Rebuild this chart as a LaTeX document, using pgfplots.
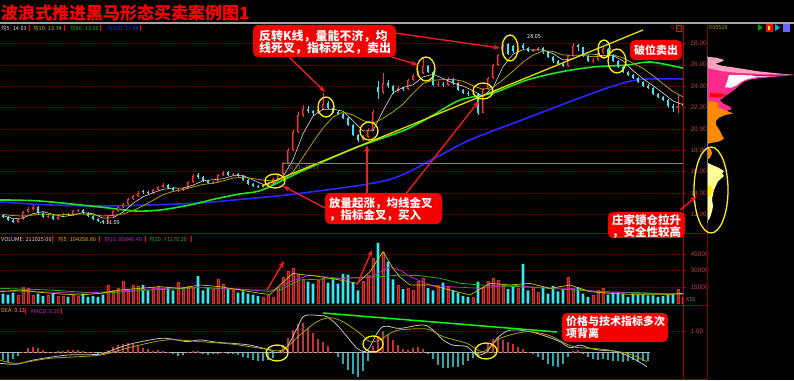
\documentclass[border=0pt]{standalone}
\usepackage{pgfplots}
\pgfplotsset{compat=1.18}
\usepackage{pgfplotstable}
\usepackage{fontspec}
\setmainfont{Liberation Sans}
\newfontfamily\cjk{Noto Sans CJK SC}
\usetikzlibrary{arrows.meta}
\definecolor{titlered}{HTML}{FF0000}
\definecolor{boxred}{HTML}{F50000}
\definecolor{upred}{HTML}{FF3232}
\definecolor{updark}{HTML}{7A1414}
\definecolor{dncyan}{HTML}{33E8F2}
\definecolor{volred}{HTML}{8B1E1E}
\definecolor{volredd}{HTML}{D43030}
\definecolor{gridc}{HTML}{5C0000}
\definecolor{sepc}{HTML}{800000}
\definecolor{axred}{HTML}{B00000}
\definecolor{lbl}{HTML}{C04040}
\definecolor{ma5}{HTML}{DCDCDC}
\definecolor{ma10}{HTML}{B4A000}
\definecolor{ma60}{HTML}{1EE61E}
\definecolor{ma120}{HTML}{2828FF}
\definecolor{difc}{HTML}{C0C0C0}
\definecolor{deac}{HTML}{A8A000}
\definecolor{vma5}{HTML}{C8C800}
\definecolor{vma10}{HTML}{D020D0}
\definecolor{vma20}{HTML}{20B020}
\definecolor{histred}{HTML}{C83232}
\definecolor{histteal}{HTML}{2EA8B0}
\definecolor{trend}{HTML}{DDDD00}
\definecolor{arr}{HTML}{FF1A1A}

\pgfplotstableread{
x o h l c v m
3 11.95 12.05 11.65 11.77 9000 -0.35
8 11.77 11.85 11.40 11.49 8000 -0.45
13 11.49 11.60 11.20 11.30 10000 -0.30
18 11.30 11.66 11.25 11.58 8000 -0.15
23 11.58 12.35 11.52 12.24 15000 0.05
28 12.24 12.70 12.15 12.52 14000 0.20
33 12.52 12.85 12.40 12.70 8000 0.28
38 12.70 12.75 12.05 12.14 9000 0.22
43 12.14 12.20 11.70 11.77 7000 0.12
48 11.77 11.98 11.65 11.86 8000 0.05
53 11.86 11.92 11.50 11.58 9000 0.02
58 11.58 11.85 11.52 11.77 7000 0.06
63 11.77 12.12 11.72 12.05 7000 0.10
68 12.05 12.15 11.88 11.96 6000 0.12
73 11.96 12.40 11.90 12.33 8000 0.14
78 12.33 12.55 12.25 12.42 7000 0.12
83 12.42 12.48 12.08 12.14 9000 0.08
88 12.14 12.20 11.80 11.86 6000 0.03
93 11.86 11.95 11.50 11.58 7000 0.02
98 11.58 11.66 11.32 11.40 6000 -0.02
103 11.40 11.50 11.09 11.30 8000 0.04
108 11.30 11.95 11.25 11.86 17000 0.12
113 11.86 12.40 11.80 12.33 12000 0.25
118 12.33 12.80 12.25 12.70 14000 0.35
123 12.70 13.10 12.60 12.98 20000 0.42
128 12.98 13.55 12.90 13.45 13000 0.43
133 13.45 13.85 13.35 13.73 17000 0.38
138 13.73 14.15 13.65 14.01 16000 0.30
143 14.20 14.30 13.95 14.11 17000 0.22
148 14.11 14.20 13.90 14.01 12000 0.15
153 14.01 14.40 13.95 14.29 15000 0.10
158 14.29 14.70 14.20 14.57 16000 0.12
163 14.57 14.90 14.50 14.76 14000 0.10
168 14.76 14.82 14.40 14.48 15000 0.03
173 14.48 14.55 14.20 14.29 12000 -0.08
178 14.20 14.45 14.10 14.29 19000 -0.15
183 14.29 14.60 14.22 14.48 13000 -0.12
188 14.48 15.15 14.40 15.04 16000 0.04
193 15.04 15.75 14.98 15.60 14000 0.10
198 15.70 15.85 15.35 15.51 25000 0.08
203 15.51 15.58 15.05 15.13 12000 -0.05
208 15.13 15.20 14.85 14.95 15000 -0.10
213 14.95 15.15 14.88 15.04 13000 -0.08
218 15.04 15.80 15.00 15.69 22000 -0.02
223 15.69 16.05 15.60 15.88 18000 0.02
228 15.95 16.02 15.60 15.69 14000 -0.04
233 15.69 15.90 15.62 15.79 12000 -0.08
238 15.79 15.85 15.52 15.60 10000 -0.12
243 15.60 15.65 15.15 15.23 11000 -0.18
248 15.23 15.28 14.78 14.85 9000 -0.25
253 14.85 14.92 14.58 14.67 8000 -0.32
258 14.67 14.75 14.48 14.57 7000 -0.38
263 14.57 14.85 14.50 14.76 6000 -0.40
268 14.76 15.05 14.68 14.95 8000 -0.35
273 14.95 15.40 14.90 15.32 6000 -0.25
278 15.32 15.90 15.25 15.79 15000 0.05
283 15.79 16.95 15.72 16.81 24000 0.35
288 16.81 18.20 16.75 18.03 29000 0.70
293 18.03 19.90 17.95 19.71 32000 1.05
298 19.71 21.55 19.60 21.30 27000 1.30
303 21.30 22.20 21.10 21.86 22000 1.35
308 21.86 22.10 21.45 21.68 20000 1.15
313 21.68 21.80 21.20 21.49 18000 0.90
318 21.49 22.05 21.40 21.86 21000 0.65
323 21.86 23.40 21.80 22.33 23000 0.50
328 22.40 22.60 21.85 21.96 19000 0.30
333 21.96 22.05 21.45 21.58 22000 0.05
338 21.58 21.70 21.30 21.40 18000 -0.20
343 21.40 21.50 20.90 21.02 27000 -0.50
348 21.02 21.10 20.25 20.37 26000 -0.80
353 20.37 20.45 19.30 19.43 19000 -1.00
358 19.43 19.55 18.80 18.97 12000 -1.10
363 18.97 19.40 18.85 19.25 20000 -0.85
368 19.25 20.05 19.15 19.90 26000 -0.40
373 19.90 21.75 19.85 21.58 41000 0.30
378 23.90 24.50 22.80 23.45 55000 0.75
383 23.45 25.20 23.30 24.29 47000 1.00
388 24.29 24.60 23.80 24.01 38000 0.85
393 24.01 24.10 23.30 23.55 22000 0.60
398 23.55 24.00 23.45 23.83 17000 0.35
403 23.83 23.95 23.55 23.73 13000 0.15
408 23.73 24.70 23.65 24.57 14000 0.12
413 24.57 25.10 24.45 24.95 12000 0.20
418 24.95 25.45 24.85 25.23 20000 0.25
423 25.23 26.60 25.15 25.88 23000 0.15
428 25.88 26.00 25.20 25.32 14000 -0.05
433 25.32 25.40 24.00 24.11 12000 -0.30
438 24.11 24.45 23.95 24.20 16000 -0.55
443 24.20 24.35 23.90 24.11 19000 -0.70
448 24.11 24.85 24.00 24.67 15000 -0.72
453 24.67 24.75 24.15 24.29 12000 -0.68
458 24.29 24.35 23.55 23.64 10000 -0.65
463 23.64 23.75 23.25 23.36 7000 -0.55
468 23.36 23.50 23.10 23.26 6000 -0.40
473 23.26 23.50 23.15 23.36 6000 -0.25
478 23.30 23.40 21.30 21.50 20000 -0.10
483 21.50 23.85 21.45 23.73 15000 0.10
488 23.73 24.90 23.65 24.76 20000 0.40
493 24.76 26.10 24.70 25.97 23000 0.65
498 25.97 27.05 25.90 26.91 21000 0.74
503 26.91 27.95 26.85 27.75 17000 0.60
508 27.95 28.05 26.95 27.05 13000 0.50
513 27.75 27.85 27.10 27.28 15000 0.38
518 27.28 27.55 27.15 27.38 14000 0.25
523 27.85 28.00 27.40 27.56 36000 0.15
528 27.56 27.65 27.15 27.28 12000 0.05
533 27.28 27.50 27.15 27.38 15000 -0.05
538 27.38 27.70 27.25 27.56 10000 -0.20
543 27.56 27.62 27.05 27.19 15000 -0.35
548 27.19 27.25 26.60 26.72 9000 -0.50
553 26.72 26.80 26.20 26.35 16000 -0.60
558 26.35 26.45 25.95 26.07 11000 -0.65
563 26.07 26.15 25.75 25.88 13000 -0.50
568 25.88 26.95 25.80 26.82 24000 -0.20
573 26.82 28.00 26.75 27.75 14000 0.10
578 27.85 27.95 27.30 27.66 15000 0.12
583 27.66 27.70 26.70 26.82 9000 -0.05
588 26.82 26.90 26.25 26.35 6000 -0.20
593 26.35 26.60 26.20 26.44 8000 -0.30
598 26.44 27.20 26.35 27.10 12000 -0.35
603 27.10 27.65 27.00 27.47 14000 -0.30
608 27.47 27.55 26.80 26.91 8000 -0.35
613 26.91 27.00 26.25 26.35 10000 -0.40
618 26.35 26.45 25.70 25.79 10000 -0.38
623 25.79 25.90 25.20 25.32 9000 -0.45
628 25.32 25.45 24.95 25.04 6000 -0.40
633 25.04 25.15 24.65 24.76 9000 -0.35
638 24.76 24.85 24.30 24.39 8000 -0.42
643 24.39 24.50 23.90 24.01 8000 -0.38
648 24.01 24.20 23.70 23.83 7500 -0.40
653 23.83 23.90 23.15 23.26 7500 0
658 23.26 23.35 22.85 22.98 6000 0
663 22.98 23.10 22.60 22.70 7000 0
668 22.70 22.80 22.00 22.14 8000 0
673 22.14 22.30 21.60 21.96 9000 0
678 21.96 23.20 21.50 22.14 13000 0
683 22.14 22.60 22.00 22.42 6000 0
}\kdata

\pgfplotsset{
 panel/.style={scale only axis, anchor=south west, xmin=0, xmax=683,
   axis x line=none, axis y line*=right,
   y axis line style={draw=axred, line width=0.7pt},
   ytick style={draw=axred, line width=0.5pt},
   tick align=outside, major tick length=3pt,
   yticklabel style={font=\fontsize{6.5}{7}\selectfont, text=lbl, xshift=1pt},
   /pgf/number format/assume math mode=true,
   ymajorgrids, grid style={draw=gridc, densely dotted, line width=0.5pt}},
 vec/.style 2 args={forget plot, mark=none, draw=#2, line width=#1,
   quiver/every arrow/.append style={draw=#2, line width=#1}}
}

\begin{document}
\begin{tikzpicture}[x=1pt,y=1pt]
\fill[black] (0,0) rectangle (794,380);
\path[use as bounding box] (0,0) rectangle (794,380);

% ---------------- price panel
\begin{axis}[panel, at={(0pt,147pt)}, width=683pt, height=206pt,
  ymin=10.27, ymax=29.53, ytick={12,14,...,28},
  yticklabels={12.00,14.00,16.00,18.00,20.00,22.00,24.00,26.00,28.00}]
\addplot[ma120, line width=1.6pt, smooth] coordinates {
(0,13.17)(50,12.89)(100,12.80)(150,12.89)(200,13.08)(255,13.54)(303,14.01)(388,15.23)(437,17.38)(470,18.97)(527,21.02)(593,23.36)(627,24.39)(647,24.67)(683,24.67)};
\addplot[ma60, line width=1.6pt, smooth] coordinates {
(0,13.36)(40,13.26)(100,12.70)(135,12.33)(160,12.42)(190,12.89)(215,13.45)(240,13.92)(262,14.29)(300,15.97)(355,18.22)(405,19.90)(430,21.12)(460,22.70)(493,23.36)(527,24.57)(560,25.32)(593,25.79)(627,25.97)(650,26.26)(683,25.69)};
% wicks
\addplot[restrict expr to domain={\thisrow{c}-\thisrow{o}}{0:100}, vec={0.7pt}{upred},
  quiver={u=0, v=\thisrow{h}-\thisrow{l}}] table[x=x, y=l] {\kdata};
\addplot[restrict expr to domain={\thisrow{c}-\thisrow{o}}{-100:-0.001}, vec={0.7pt}{dncyan},
  quiver={u=0, v=\thisrow{h}-\thisrow{l}}] table[x=x, y=l] {\kdata};
% bodies
\addplot[restrict expr to domain={\thisrow{c}-\thisrow{o}}{0:100}, vec={2.8pt}{upred},
  quiver={u=0, v={max(\thisrow{c}-\thisrow{o},0.06)}}] table[x=x, y=o] {\kdata};
\addplot[restrict expr to domain={\thisrow{c}-\thisrow{o}}{0.2:100}, vec={1.0pt}{updark},
  quiver={u=0, v={\thisrow{c}-\thisrow{o}-0.12}}] table[x=x, y expr={\thisrow{o}+0.06}] {\kdata};
\addplot[restrict expr to domain={\thisrow{c}-\thisrow{o}}{-100:-0.001}, vec={2.8pt}{dncyan},
  quiver={u=0, v={\thisrow{o}-\thisrow{c}}}] table[x=x, y=c] {\kdata};
\addplot[ma5, line width=0.6pt] coordinates {
(3,11.90)(13,11.60)(23,11.68)(33,12.07)(43,12.27)(53,12.01)(63,11.81)(73,11.94)(83,12.18)(93,12.07)(103,11.66)(113,11.69)(123,12.23)(133,13.04)(143,13.66)(153,14.03)(163,14.35)(173,14.48)(183,14.46)(193,14.74)(203,15.15)(213,15.25)(223,15.34)(233,15.62)(243,15.64)(253,15.23)(263,14.82)(273,14.85)(283,15.53)(293,17.13)(303,19.54)(313,21.21)(323,21.84)(333,21.84)(343,21.66)(353,20.76)(363,19.81)(373,19.83)(383,21.69)(393,23.38)(403,23.88)(413,24.13)(423,24.87)(433,25.10)(443,24.72)(453,24.28)(463,24.01)(473,23.58)(483,23.04)(493,23.86)(503,25.82)(513,26.99)(523,27.40)(533,27.38)(543,27.39)(553,27.04)(563,26.44)(573,26.57)(583,26.99)(593,27.00)(603,26.84)(613,26.85)(623,26.37)(633,25.45)(643,24.70)(653,24.05)(663,23.36)(673,22.61)(683,22.27)};
\addplot[ma10, line width=0.8pt] coordinates {
(3,12.00)(13,11.90)(23,11.85)(33,11.95)(43,12.05)(53,11.94)(63,11.99)(73,12.04)(83,12.05)(93,11.97)(103,11.86)(113,11.91)(123,12.05)(133,12.36)(143,12.81)(153,13.33)(163,13.85)(173,14.16)(183,14.33)(193,14.58)(203,14.81)(213,14.92)(223,15.14)(233,15.41)(243,15.47)(253,15.36)(263,15.22)(273,15.14)(283,15.28)(293,15.98)(303,17.36)(313,18.77)(323,20.09)(333,21.11)(343,21.59)(353,21.30)(363,20.78)(373,20.52)(383,20.99)(393,21.60)(403,22.32)(413,23.33)(423,24.25)(433,24.55)(443,24.61)(453,24.63)(463,24.46)(473,24.04)(483,23.70)(493,23.90)(503,24.60)(513,25.40)(523,26.25)(533,26.90)(543,27.30)(553,27.25)(563,26.91)(573,26.89)(583,26.87)(593,26.75)(603,26.81)(613,26.92)(623,26.64)(633,26.15)(643,25.66)(653,24.98)(663,24.22)(673,23.50)(683,22.99)};
\end{axis}

% ---------------- profile
\begin{axis}[scale only axis, anchor=south west, at={(707pt,147pt)}, width=87pt, height=206pt,
  xmin=0, xmax=87, ymin=10.27, ymax=29.53, axis lines=none, ticks=none]
\addplot[fill={rgb,255:red,255;green,42;blue,138}, draw=none] coordinates {
(0,26.5)(8,26.4)(10,26.15)(6,26.0)(12,25.85)(20,25.6)(30,25.35)(50,25.15)(87,25.04)(65,24.85)(45,24.65)(37,24.42)(33,24.11)(27,23.64)(20,23.17)(13,22.70)(16,22.39)(23,22.08)(25,21.85)(20,21.7)(10,21.55)(0,21.5)};
\addplot[fill={rgb,255:red,255;green,160;blue,192}, draw=none] coordinates {
(0,26.75)(10,26.65)(17,26.45)(14,26.25)(8,26.10)(15,25.90)(30,25.70)(50,25.40)(70,25.20)(87,25.05)(60,25.10)(30,25.25)(15,25.4)(5,25.6)(0,25.7)};
\addplot[fill=white, draw=none] coordinates {
(22,25.05)(50,25.0)(72,24.97)(50,24.85)(40,24.65)(34,24.4)(30,24.1)(24,23.85)(18,23.9)(20,24.4)};
\addplot[fill=red, draw=none] coordinates {(45,25.02)(87,25.04)(70,24.97)(50,24.92)};
\addplot[fill=red, draw=none] coordinates {(3,23.35)(15,23.3)(20,23.1)(12,22.95)(3,23.0)};
\addplot[fill={rgb,255:red,255;green,138;blue,0}, draw=none] coordinates {
(0,22.6)(8,22.55)(12,22.35)(10,22.1)(14,21.9)(22,21.6)(26,21.45)(18,21.3)(12,21.05)(9,20.75)(9,20.4)(11,20.1)(13,19.8)(15,19.4)(17,19.1)(13,18.85)(5,18.7)(0,18.6)};
\addplot[fill={rgb,255:red,255;green,138;blue,0}, draw=none] coordinates {(0,18.3)(4,18.1)(5,17.7)(3,17.3)(0,17.1)};
\addplot[fill={rgb,255:red,255;green,255;blue,150}, draw=none] coordinates {
(0,16.85)(6,16.6)(12,16.35)(17,16.05)(15,15.85)(17,15.6)(14,15.35)(11,15.1)(9,14.7)(7,14.3)(6,13.9)(5,13.4)(6,12.8)(5,12.3)(3,11.7)(0,11.3)};
\addplot[fill=yellow, draw=none] coordinates {(0,14.8)(5,14.6)(6,14.2)(4,13.8)(0,13.6)};
\end{axis}

% ---------------- volume panel
\begin{axis}[panel, at={(0pt,76.5pt)}, width=683pt, height=60.5pt,
  ymin=0, ymax=55000, ytick={15000,30000,45000}, yticklabels={15000,30000,45000}, scaled y ticks=false]
\addplot[ybar, bar width=2.6pt, bar shift=0pt, fill=volred, draw=volredd, line width=0.4pt,
  restrict expr to domain={\thisrow{c}-\thisrow{o}}{0:100}] table[x=x, y=v] {\kdata};
\addplot[ybar, bar width=2.6pt, bar shift=0pt, fill=dncyan, draw=none,
  restrict expr to domain={\thisrow{c}-\thisrow{o}}{-100:-0.001}] table[x=x, y=v] {\kdata};
\addplot[vma20, line width=0.8pt] coordinates {
(0,13790)(50,12270)(100,9240)(150,12270)(200,14390)(250,12270)(280,12270)(300,21360)(340,22880)(380,24390)(400,25910)(420,25300)(440,22880)(460,18330)(490,16210)(520,15300)(560,13180)(600,10750)(640,9845)(683,8330)};
\addplot[vma10, line width=0.7pt] coordinates {
(0,11360)(40,10750)(80,9240)(120,11360)(160,13790)(200,14700)(240,13180)(270,10750)(290,19850)(310,25910)(340,22880)(370,23480)(390,33450)(400,30400)(410,24390)(430,16820)(450,15300)(480,13790)(510,16820)(540,14390)(570,13790)(600,10750)(640,9240)(683,8640)};
\addplot[vma5, line width=0.7pt] coordinates {
(0,10750)(20,12270)(40,10150)(60,8640)(80,7730)(100,9240)(120,12270)(140,13790)(160,15300)(180,13790)(200,16820)(220,15300)(240,12270)(260,9240)(270,8330)(280,16820)(293,27420)(300,26510)(320,24390)(340,21360)(357,18330)(370,28940)(383,47110)(393,31970)(400,24000)(410,16820)(430,16820)(450,12270)(470,7730)(490,18330)(510,16820)(530,18330)(550,13790)(570,16820)(590,10750)(610,9240)(630,8330)(650,8330)(670,8330)(683,9240)};
\end{axis}

% ---------------- MACD panel
\begin{axis}[panel, at={(0pt,2pt)}, width=683pt, height=66pt,
  ymin=-1.166, ymax=1.876, ytick={1}, yticklabels={1.00}]
\addplot[gray!60, line width=0.5pt, forget plot] coordinates {(0,0)(650,0)};
\addplot[restrict expr to domain={\thisrow{m}}{0.001:10}, vec={1.3pt}{histred},
  quiver={u=0, v=\thisrow{m}}] table[x=x, y expr=0] {\kdata};
\addplot[restrict expr to domain={\thisrow{m}}{-10:-0.001}, vec={1.3pt}{histteal},
  quiver={u=0, v=\thisrow{m}}] table[x=x, y expr=0] {\kdata};
\addplot[difc, line width=0.8pt, smooth] coordinates {
(0,-0.49)(17,-0.53)(33,-0.34)(67,-0.11)(100,-0.07)(117,0.2)(133,0.43)(160,0.66)(173,0.62)(187,0.51)(200,0.59)(217,0.48)(233,0.43)(250,0.35)(267,0.16)(277,0)(287,0.28)(297,1.12)(303,1.66)(310,1.74)(320,1.71)(327,1.66)(337,1.28)(347,0.74)(357,0.2)(365,0.05)(370,0.28)(377,0.89)(383,1.2)(390,1.2)(400,1.12)(423,1.28)(433,1.05)(443,0.59)(453,0.35)(467,0.28)(477,-0.11)(487,0.05)(497,0.66)(507,1.0)(517,1.05)(533,0.94)(547,0.74)(560,0.51)(570,0.23)(580,0.35)(590,0.2)(600,0.12)(617,0.05)(633,-0.26)(647,-0.65)};
\addplot[deac, line width=0.8pt, smooth] coordinates {
(0,-0.34)(17,-0.49)(50,-0.26)(100,-0.11)(133,0.28)(167,0.59)(200,0.51)(233,0.39)(267,0.16)(283,0.12)(300,0.82)(317,1.43)(330,1.61)(343,1.43)(360,0.89)(370,0.51)(380,0.59)(390,0.89)(400,1.05)(427,1.09)(443,0.74)(467,0.43)(483,0.05)(500,0.66)(527,0.97)(550,0.78)(573,0.28)(600,0.17)(627,-0.03)(647,-0.41)};
\end{axis}

% ---------------- frame lines
\draw[axred, line width=0.7pt] (683,355) -- (683,0);
\draw[sepc, line width=0.7pt] (707,355) -- (707,0);
\draw[gray, line width=0.6pt] (707,324) -- (707,157);
\draw[sepc, line width=1pt] (0,146) -- (707,146);
\draw[sepc, line width=1pt] (0,75) -- (707,75);
\draw[sepc, line width=1pt] (0,1) -- (707,1);
\draw[gray!70, line width=1.6pt] (0,357) -- (794,357);

% ---------------- title and legends
\node[anchor=west, inner sep=0, text=titlered, font=\cjk\bfseries\fontsize{17}{17}\selectfont] at (1,367) {波浪式推进黑马形态买卖案例图1};
\begin{scope}[every node/.style={anchor=west, inner sep=0, font=\cjk\fontsize{5.5}{6}\selectfont}]
\node[text=ma5] at (1,352) {均5: 14.03};
\node[text=vma5] at (33,352) {均10: 13.74};
\node[text=ma60!80!black] at (70,352) {均60: 13.36};
\node[text=ma120] at (107,352) {均120: 12.88};
\node[text={rgb,255:red,160;green,150;blue,40}] at (709,352) {000528};
\node[text=red] at (671,352) {0};
\node[text={rgb,255:red,230;green,230;blue,190}] at (1,141) {VOLUME: 211025.06};
\node[text=vma5] at (58,141) {均5: 104258.80};
\node[text=vma10] at (104,141) {均10: 85846.40};
\node[text=vma20] at (149,141) {均20: 71170.20};
\node[text=vma5] at (1,69) {DEA: 0.13};
\node[text=vma10] at (31,69) {MACD: 0.20};
\node[text=white] at (527,343) {28.05};
\node[text=white] at (99,157) {$\leftarrow$11.09};
\node[text=gray] at (686,80) {X10};
\node[text=gray] at (287,212) {16.71 - 16.77};
\end{scope}
% small red markers after legend values
\begin{scope}[red, line width=0.7pt]
\draw (29,349) -- (29,355); \draw (64,349) -- (64,355); \draw (100,349) -- (100,355); \draw (140,349) -- (140,355);
\draw (52,138) -- (52,144); \draw (99,138) -- (99,144); \draw (145,138) -- (145,144); \draw (191,138) -- (191,144);
\draw (25,66) -- (25,72); \draw (61,66) -- (61,72);
\draw (676,349) rectangle (681,355);
\end{scope}
% toolbar icons
\fill[green!60!black] (758,349) -- (758,356) -- (763,352.5) -- cycle;
\fill[red] (766,348) rectangle (773,356);
\fill[yellow] (767.5,350) rectangle (770,354);
\fill[cyan] (775,349) -- (775,356) -- (780,352.5) -- cycle;
\fill[blue!60!white] (783,348) rectangle (790,356);

% ---------------- trend lines
\draw[trend, line width=1.3pt] (262,194) -- (643,350);
\draw[gray, line width=0.8pt] (283,217) -- (683,217);
\draw[green, line width=1.5pt] (323,67) -- (557,48);

% ---------------- ellipses
\begin{scope}[yellow, line width=1.3pt]
\draw (275,199) ellipse [x radius=10, y radius=7];
\draw (326,273) ellipse [x radius=8, y radius=10];
\draw (369,249) ellipse [x radius=9, y radius=9];
\draw (426,311) ellipse [x radius=9, y radius=12];
\draw (483,289) ellipse [x radius=10, y radius=8];
\draw (510,332) ellipse [x radius=8, y radius=13];
\draw (604,331) ellipse [x radius=6, y radius=9];
\draw (617,319) ellipse [x radius=9, y radius=12];
\draw (711,190) ellipse [x radius=17, y radius=43];
\draw (277,27) ellipse [x radius=11, y radius=8];
\draw (373,36) ellipse [x radius=10, y radius=8];
\draw (486,29) ellipse [x radius=11, y radius=8];
\end{scope}

% ---------------- arrows
\begin{scope}[arr, line width=1.3pt, -{Stealth[length=7pt,width=5pt]}]
\draw (287,325) -- (325,288);
\draw (392,323) -- (418,315);
\draw (395,347) -- (500,332);
\draw (325,172) -- (283,194);
\draw (367,187) -- (367,235);
\draw (405,185) -- (479,279);
\draw (680,170) -- (697,184);
\draw (267,90) -- (284,119);
\draw (357,95) -- (372,130);
\end{scope}

% ---------------- boxes
\begin{scope}[every node/.style={anchor=west, inner sep=0, text=white, font=\cjk\bfseries\fontsize{12}{12}\selectfont}]
\fill[boxred, rounded corners=5pt] (253,355) rectangle (396,323);
\node at (259,344) {反转K线，量能不济，均};
\node at (259,332) {线死叉，指标死叉，卖出};
\fill[boxred, rounded corners=5pt] (325,187) rectangle (442,156);
\node[font=\cjk\bfseries\fontsize{11.5}{12}\selectfont] at (329,177) {放量起涨，均线金叉};
\node[font=\cjk\bfseries\fontsize{11.5}{12}\selectfont] at (329,165) {，指标金叉，买入};
\fill[boxred, rounded corners=5pt] (630,340) rectangle (682,320);
\node[font=\cjk\bfseries\fontsize{11}{12}\selectfont] at (634,330) {破位卖出};
\fill[boxred, rounded corners=5pt] (608,168) rectangle (685,142);
\node[font=\cjk\bfseries\fontsize{11.5}{12}\selectfont] at (612,160) {庄家锁仓拉升};
\node[font=\cjk\bfseries\fontsize{11.5}{12}\selectfont] at (612,148) {，安全性较高};
\fill[boxred, rounded corners=5pt] (562,67) rectangle (668,38);
\node[font=\cjk\bfseries\fontsize{11}{12}\selectfont] at (566,59) {价格与技术指标多次};
\node[font=\cjk\bfseries\fontsize{11}{12}\selectfont] at (566,47) {项背离};
\end{scope}
\end{tikzpicture}
\end{document}
